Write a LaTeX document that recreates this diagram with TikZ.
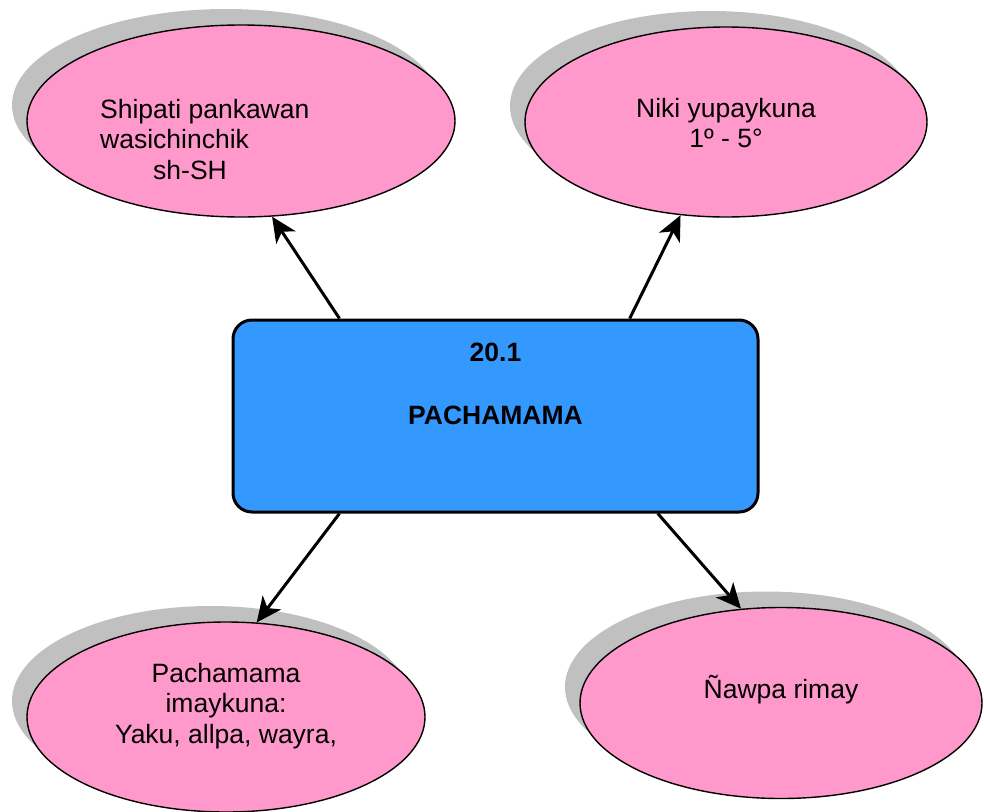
\documentclass[tikz,border=0pt]{standalone}
\usepackage{fontspec}
\setmainfont{Liberation Sans}
\usepackage{tikz}
\usetikzlibrary{arrows.meta,shapes,shadows}
\usepackage{xcolor}
\definecolor{mapblue}{RGB}{51,153,255}
\definecolor{mappink}{RGB}{255,153,204}
\definecolor{mapshadow}{RGB}{192,192,192}
\tikzstyle{arrow} = [line width=3pt,-{Stealth[length=25pt,width=23pt,inset=7pt]},color=black]
\tikzstyle{topic} = [ellipse, draw, line width=1.4pt, fill=mappink, inner sep=0pt,
  drop shadow={shadow xshift=-15pt,shadow yshift=16pt,fill=mapshadow,opacity=1}]
\tikzstyle{topictext} = [font=\fontsize{26.5}{30.5}\selectfont, inner sep=0pt]

\begin{document}
\begin{tikzpicture}[x=1pt,y=-1pt]
    \useasboundingbox (0,0) rectangle (984,811);

    % Central box
    \node[rectangle, draw, rounded corners=19pt, line width=3pt, fill=mapblue,
      minimum width=525pt, minimum height=192pt] (core) at (495.5,416) {};
    \node[topictext, font=\fontsize{26.5}{30.5}\selectfont\bfseries, align=center, anchor=north]
      (core-text) at (495.5,343) {20.1\\[32.5pt]PACHAMAMA};

    % Topic ellipses
    \node[topic, minimum width=428pt, minimum height=192pt] (tl) at (241,121) {};
    \node[topictext, align=left, anchor=north west] (tl-text) at (100,99)
      {Shipati pankawan\\wasichinchik\\\hspace*{53pt}sh-SH};

    \node[topic, minimum width=402pt, minimum height=190pt] (tr) at (726,122) {};
    \node[topictext, align=center, anchor=north] (tr-text) at (726,98)
      {Niki yupaykuna\\1º - 5°};

    \node[topic, minimum width=398pt, minimum height=190pt] (bl) at (226,717) {};
    \node[topictext, align=center, anchor=north] (bl-text) at (226,663)
      {Pachamama\\imaykuna:\\Yaku, allpa, wayra,};

    \node[topic, minimum width=402pt, minimum height=191pt] (br) at (781,703) {};
    \node[topictext, anchor=base] (br-text) at (781,698) {Ñawpa rimay};

    % Arrows
    \draw[arrow] (core.148) -- (tl.-72);
    \draw[arrow] (core.36) -- (tr.-116);
    \draw[arrow] (core.212) -- (bl.72);
    \draw[arrow] (core.329.5) -- (br.113);
\end{tikzpicture}
\end{document}
